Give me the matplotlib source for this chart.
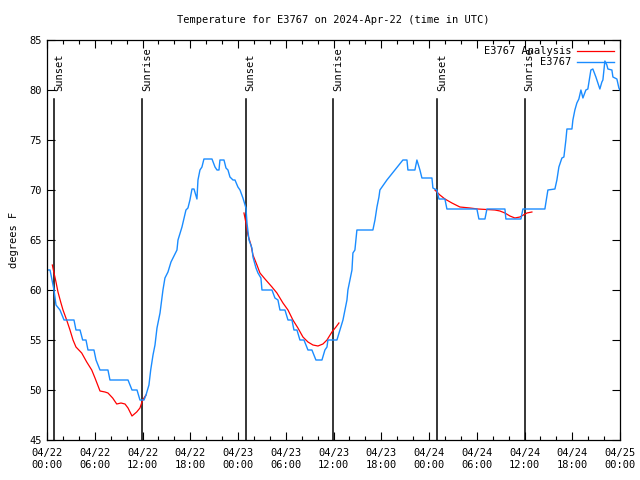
"""
Temperature for E3767, observed vs analysis, with sunrise/sunset markers
"""

import numpy as np
import pandas as pd
import matplotlib
matplotlib.use("Agg")
import matplotlib.pyplot as plt
import matplotlib.dates as mdates

start = pd.Timestamp("2024-04-22 00:00")

# observed series (hours since start, degrees F)
obs_hours = [0.16, 0.38, 0.88, 1.13, 1.63, 2.14, 3.39, 3.64, 4.15, 4.48, 4.90, 5.15, 5.90, 6.16,
             6.66, 7.66, 7.91, 10.18, 10.68, 11.31, 11.68, 12.19, 12.44, 12.81, 13.03, 13.32,
             13.57, 13.82, 14.20, 14.57, 14.82, 15.20, 15.58, 15.83, 16.33, 16.46, 16.96, 17.46,
             17.71, 17.96, 18.22, 18.47, 18.84, 18.97, 19.22, 19.47, 19.72, 20.73, 21.11, 21.36,
             21.61, 21.73, 22.24, 22.49, 22.74, 22.99, 23.37, 23.62, 23.99, 24.25, 24.62, 25.0,
             25.13, 25.38, 25.75, 25.88, 26.26, 26.51, 26.88, 27.01, 28.27, 28.64, 29.02, 29.27,
             29.90, 30.28, 30.78, 31.03, 31.41, 31.78, 32.29, 32.79, 33.29, 33.79, 34.55, 34.92,
             35.18, 35.30, 36.43, 36.81, 37.19, 37.44, 37.69, 37.81, 38.07, 38.32, 38.44, 38.69,
             38.94, 40.95, 41.21, 41.46, 41.71, 41.83, 42.71, 43.72, 44.72, 45.23, 45.35, 46.23,
             46.48, 46.86, 47.11, 48.37, 48.49, 48.99, 49.25, 50.0, 50.25, 54.02, 54.27, 55.03,
             55.28, 57.54, 57.66, 59.55, 59.80, 62.56, 62.94, 63.82, 64.07, 64.32, 64.70, 64.95,
             65.20, 65.33, 65.96, 66.08, 66.33, 66.58, 66.83, 67.09, 67.34, 67.71, 67.96, 68.34,
             68.59, 68.97, 69.22, 69.47, 69.72, 69.85, 70.10, 70.35, 70.48, 70.98, 71.11, 71.61,
             71.86, 71.98]
obs_temp = [62, 62, 60, 58.5, 58, 57, 57, 56, 56, 55, 55, 54, 54, 53,
            52, 52, 51, 51, 50, 50, 49, 49, 49.5, 50.5, 52, 53.5,
            54.5, 56.2, 57.7, 60, 61.2, 61.8, 62.8, 63.2, 64, 65, 66.3, 68,
            68.2, 69, 70.1, 70.1, 69.1, 71, 72, 72.3, 73.1, 73.1, 72.3, 72,
            72, 73, 73, 72.2, 72, 71.3, 71, 71, 70.3, 70, 69.2, 68.2,
            66.7, 65, 64.2, 63.3, 62.2, 61.7, 61.2, 60, 60, 59.2, 59, 58,
            58, 57, 57, 56, 56, 55, 55, 54, 54, 53, 53, 54,
            54.3, 55, 55, 56, 57, 58, 59, 60, 61, 62, 63.7, 64,
            66, 66, 67, 68.3, 69.3, 70, 71, 72, 73, 73, 72, 72,
            73, 72, 71.2, 71.2, 70.2, 70, 69.1, 69.1, 68.1, 68.1, 67.1, 67.1,
            68.1, 68.1, 67.1, 67.1, 68.1, 68.1, 70, 70.1, 71, 72.3, 73.2, 73.3,
            75, 76.1, 76.1, 77, 78, 78.7, 79.1, 80, 79.2, 80, 80.1, 82,
            82.1, 81.3, 80.7, 80.1, 80.8, 81, 82.9, 82.5, 82.1, 82, 81.3, 81.1,
            80.2, 80]

# analysis series, night-time only (NaN splits the segments)
ana_hours = [0.67, 0.88, 1.13, 1.38, 1.72, 2.01, 2.47, 2.89, 3.27, 3.64, 4.36, 4.99, 5.62, 6.03,
             6.66, 7.29, 7.66, 8.25, 8.76, 9.30, 9.80, 10.18, 10.68, 11.27, 11.68, 12.02, 12.44,
             18.0,
             24.75, 25.0, 25.25, 25.63, 25.88, 26.38, 26.76, 27.39, 28.27, 28.89, 29.65, 30.28,
             30.90, 31.53, 32.16, 32.79, 33.42, 34.05, 34.67, 35.18, 35.80, 36.31, 36.68,
             42.0,
             48.74, 49.37, 50.0, 50.88, 51.88, 53.14, 54.15, 56.28, 56.91, 57.54, 58.17, 58.79,
             59.42, 60.30, 60.93]
ana_temp = [62.5, 61.7, 60.8, 59.8, 58.8, 58, 57, 56, 55, 54.3, 53.7, 52.8, 52, 51.2,
            49.9, 49.8, 49.7, 49.2, 48.6, 48.7, 48.6, 48.2, 47.4, 47.8, 48.2, 49, 49.5,
            np.nan,
            67.7, 66.7, 65.5, 64.5, 63.5, 62.5, 61.7, 61.1, 60.3, 59.7, 58.7, 58,
            57, 56.2, 55.3, 54.8, 54.5, 54.4, 54.6, 55, 55.8, 56.3, 56.7,
            np.nan,
            70, 69.5, 69.1, 68.7, 68.3, 68.2, 68.1, 68, 67.9, 67.7, 67.4, 67.2,
            67.3, 67.7, 67.8]

sun_hours = [0.9, 11.95, 24.95, 35.95, 49.0, 60.0]
sun_labels = ["Sunset", "Sunrise", "Sunset", "Sunrise", "Sunset", "Sunrise"]

to_time = lambda hrs: [start + pd.Timedelta(hours=h) for h in hrs]

plt.rcParams['font.family'] = ['DejaVu Sans Mono']
plt.rcParams['font.size'] = 7

fig = plt.figure(figsize=(6.4, 4.8), dpi=100)
ax = fig.add_axes([47/640, 1 - 440/480, 573/640, 400/480])

for h, lab in zip(sun_hours, sun_labels):
    t = start + pd.Timedelta(hours=h)
    ax.plot([t, t], [45, 79.1], color="black", lw=1.1)
    ax.text(t, 79.9, lab, rotation=90, ha="left", va="bottom", fontsize=7.5)

ax.plot(to_time(ana_hours), ana_temp, color="#ff0000", lw=0.9, label="E3767 Analysis")
ax.plot(to_time(obs_hours), obs_temp, color="#1a8cff", lw=1.0, label="E3767")

ax.set_xlim(start, start + pd.Timedelta(hours=72))
ax.set_ylim(45, 85)
ax.set_yticks(np.arange(45, 86, 5))
ax.xaxis.set_major_locator(mdates.HourLocator(byhour=[0, 6, 12, 18]))
ax.xaxis.set_minor_locator(mdates.HourLocator(interval=2))
ax.xaxis.set_major_formatter(mdates.DateFormatter("%m/%d\n%H:%M"))
ax.tick_params(which="major", direction="in", length=6, width=0.8, top=True, right=True,
               labelsize=7.5, pad=6)
ax.tick_params(which="minor", direction="in", length=3, width=0.8, top=True, right=True)
ax.tick_params(axis="y", which="major", pad=4)
for s in ax.spines.values():
    s.set_linewidth(0.9)

ax.set_ylabel("degrees F", fontsize=7.5, labelpad=7)
ax.set_title("Temperature for E3767 on 2024-Apr-22 (time in UTC)", fontsize=7.5, pad=12)

ax.legend(loc="upper right", frameon=False, markerfirst=False, handlelength=3.5,
          fontsize=7.5, borderaxespad=0.2, labelspacing=0.1, handletextpad=0.6)

fig.savefig("out.png", dpi=100)
